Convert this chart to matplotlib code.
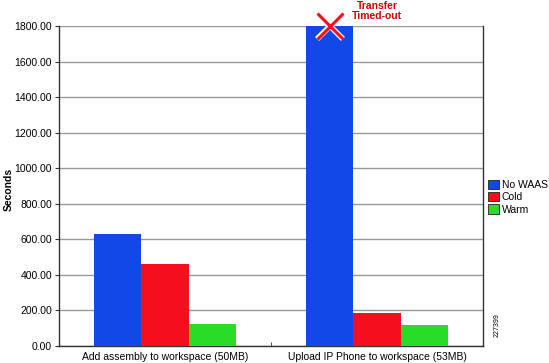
import numpy as np
import matplotlib
matplotlib.use('Agg')
import matplotlib.pyplot as plt
import matplotlib.patheffects as pe

plt.rcParams['font.family'] = ['Liberation Sans', 'DejaVu Sans']
plt.rcParams['font.size'] = 7.5

categories = ['Add assembly to workspace (50MB)', 'Upload IP Phone to workspace (53MB)']
series_names = ['No WAAS', 'Cold', 'Warm']
no_waas = [630, 1800]
cold = [461, 186]
warm = [122, 118]
colors = ['#1248E8', '#F50F1E', '#28DC28']
yticks = [0, 200, 400, 600, 800, 1000, 1200, 1400, 1600, 1800]

fig = plt.figure(figsize=(5.49, 3.63), dpi=100)
ax = fig.add_axes([59 / 549, 17 / 363, 424 / 549, 320 / 363])

x = np.arange(len(categories))
width = 0.222
for i, (vals, name, c) in enumerate(zip([no_waas, cold, warm], series_names, colors)):
    ax.bar(x + (i - 1) * width, vals, width, color=c, label=name, zorder=3)

ax.set_xlim(-0.5, 1.5)
ax.set_ylim(0, 1800)
ax.set_yticks(yticks)
ax.set_yticklabels([f'{v:.2f}' for v in yticks])
ax.yaxis.grid(True, color='#999999', linewidth=1.0, zorder=0)
ax.set_xticks(x)
ax.set_xticklabels(categories)
ax.set_xticks([0.5], minor=True)
ax.tick_params(axis='x', which='major', length=0, pad=4)
ax.tick_params(axis='x', which='minor', length=3, direction='in', color='#333333')
ax.tick_params(axis='y', length=3, color='#333333', pad=2)
for s in ['left', 'bottom', 'right']:
    ax.spines[s].set_color('#333333')
    ax.spines[s].set_linewidth(1.0)
ax.spines['top'].set_visible(False)
ax.set_ylabel('Seconds', fontweight='bold')
ax.yaxis.set_label_coords(-0.108, 0.49)

# timed-out marker on the clipped bar
ax.plot([1 - width], [1800], marker='x', markersize=19, markeredgewidth=2.2,
        color='#F50F1E', clip_on=False, zorder=5,
        path_effects=[pe.Stroke(linewidth=4, foreground='white'), pe.Normal()])
fig.text(377 / 549, 1 - 1 / 363, 'Transfer\nTimed-out', color='#D90000',
         fontweight='bold', fontsize=7.5, ha='center', va='top', linespacing=1.0)

leg = ax.legend(loc='center left', bbox_to_anchor=(1.0, 0.465), frameon=False,
                handlelength=1.0, handleheight=1.0, handletextpad=0.3,
                labelspacing=0.2, borderpad=0.2, borderaxespad=0.3)
for h in leg.legend_handles:
    h.set_edgecolor('#222222')
    h.set_linewidth(0.6)

fig.text(497 / 549, 1 - 325 / 363, '227399', rotation=90, fontsize=5,
         ha='center', va='center')

fig.savefig('out.png', dpi=100)
